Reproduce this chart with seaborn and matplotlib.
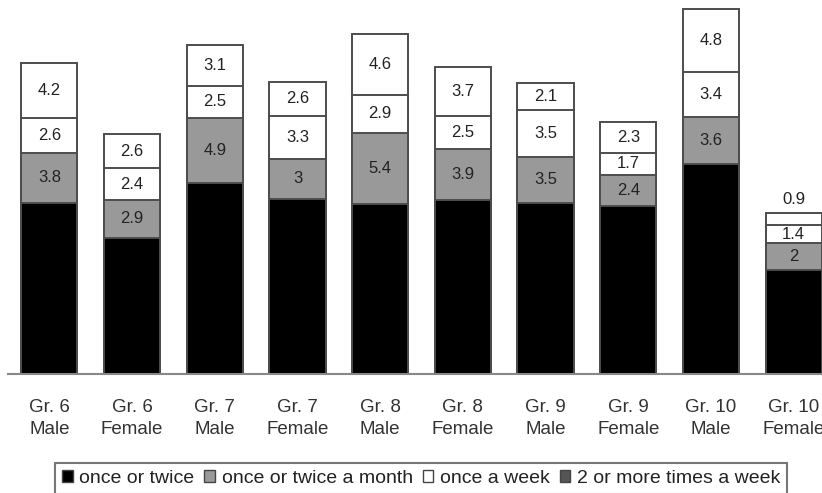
import matplotlib
matplotlib.use("Agg")
import matplotlib.pyplot as plt
import seaborn as sns
import numpy as np
import pandas as pd
from matplotlib.patches import Patch

sns.set_theme(style="white")
plt.rcParams['font.family'] = ['Liberation Sans', 'DejaVu Sans']

categories = ["Gr. 6\nMale", "Gr. 6\nFemale", "Gr. 7\nMale", "Gr. 7\nFemale",
              "Gr. 8\nMale", "Gr. 8\nFemale", "Gr. 9\nMale", "Gr. 9\nFemale",
              "Gr. 10\nMale", "Gr. 10\nFemale"]
once_or_twice = [13.0, 10.3, 14.5, 13.3, 12.9, 13.2, 13.0, 12.7, 15.9, 7.9]
once_twice_month = [3.8, 2.9, 4.9, 3, 5.4, 3.9, 3.5, 2.4, 3.6, 2]
once_week = [2.6, 2.4, 2.5, 3.3, 2.9, 2.5, 3.5, 1.7, 3.4, 1.4]
two_or_more_week = [4.2, 2.6, 3.1, 2.6, 4.6, 3.7, 2.1, 2.3, 4.8, 0.9]
series_names = ["once or twice", "once or twice a month", "once a week", "2 or more times a week"]

series = [once_or_twice, once_twice_month, once_week, two_or_more_week]
fills = ["#000000", "#999999", "#ffffff", "#ffffff"]
legend_fills = ["#000000", "#999999", "#ffffff", "#555555"]
edge = "#4d4d4d"

cum = np.cumsum(np.array(series), axis=0)

W, H = 822, 493
fig = plt.figure(figsize=(W / 100, H / 100), dpi=100)
base_y = 373.5
ax = fig.add_axes([8 / W, (H - base_y) / H, 827 / W, base_y / H])

# draw cumulative layers from top to bottom
for k in range(3, -1, -1):
    df = pd.DataFrame({"cat": categories, "val": cum[k]})
    sns.barplot(data=df, x="cat", y="val", order=categories, color=fills[k],
                saturation=1, edgecolor=edge, linewidth=1.4, width=0.68, ax=ax)

# value labels
for k in range(1, 4):
    for i, v in enumerate(series[k]):
        lo = cum[k - 1][i]
        if v < 1.2:
            y = cum[k][i] + 1.05
        else:
            y = lo + v / 2
        ax.text(i, y, f"{v:g}", ha="center", va="center", fontsize=12, color="#222222")

ax.set_xlim(-0.5, 9.5)
ax.set_ylim(0, base_y / 13.15)
ax.set_xlabel("")
ax.set_ylabel("")
ax.set_yticks([])
for s in ["left", "top", "right"]:
    ax.spines[s].set_visible(False)
ax.spines["bottom"].set_color("#888888")
ax.spines["bottom"].set_linewidth(1.5)
ax.set_xticks(range(len(categories)))
ax.set_xticklabels(categories, fontsize=13.5, color="#333333", linespacing=1.45)
ax.tick_params(axis="x", which="major", length=0, pad=18)
ax.set_xticks(np.arange(-0.5, 10, 1), minor=True)
ax.tick_params(axis="x", which="minor", direction="in", length=4.5, width=1.2, color="#888888")

handles = [Patch(facecolor=c, edgecolor="#444444", linewidth=1.0) for c in legend_fills]
leg = fig.legend(handles, series_names, loc="upper left",
                 bbox_to_anchor=(55 / W, (H - 463) / H), bbox_transform=fig.transFigure,
                 ncol=4, fontsize=14, frameon=True, fancybox=False, borderaxespad=0,
                 handlelength=0.55, handleheight=0.55, handletextpad=0.35,
                 columnspacing=0.5, borderpad=0.35)
leg.get_frame().set_edgecolor("#555555")
leg.get_frame().set_linewidth(1.5)
for t in leg.get_texts():
    t.set_color("#222222")

fig.savefig("out.png", dpi=100)
